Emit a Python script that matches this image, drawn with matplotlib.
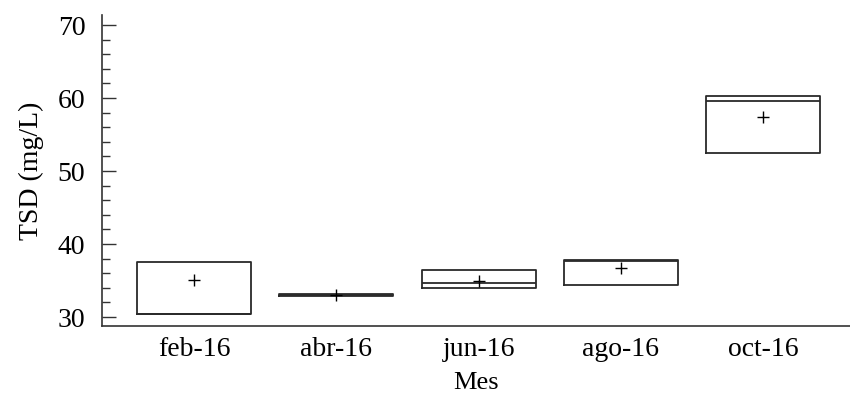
import matplotlib
matplotlib.use("Agg")
import matplotlib.pyplot as plt
from matplotlib.ticker import MultipleLocator

plt.rcParams["font.family"] = ["Liberation Serif", "DejaVu Serif"]

# Monthly TSD summary (mg/L)
meses = ["feb-16", "abr-16", "jun-16", "ago-16", "oct-16"]
q1 = [30.37, 32.88, 33.93, 34.38, 52.42]
mediana = [30.37, 33.0, 34.62, 37.62, 59.63]
q3 = [37.49, 33.12, 36.44, 37.81, 60.27]
media = [35.07, 33.0, 34.93, 36.67, 57.44]

stats = []
for m, a, med, b, mu in zip(meses, q1, mediana, q3, media):
    stats.append({"label": m, "q1": a, "med": med, "q3": b, "mean": mu,
                  "whislo": a, "whishi": b, "fliers": []})

fig = plt.figure(figsize=(8.5, 3.95), dpi=100)
ax = fig.add_axes([0.12, 0.1747, 0.88, 0.7873])

line = dict(color="#2a2a2a", linewidth=1.3)
ax.bxp(stats, positions=range(1, 6), widths=0.8, showmeans=True,
       showcaps=False, showfliers=False,
       boxprops=line, medianprops=line,
       whiskerprops=dict(linewidth=0),
       meanprops=dict(marker="+", markeredgecolor="black",
                      markersize=9, markeredgewidth=1.0))

ax.set_xlim(0.353, 5.61)
ax.set_ylim(28.77, 71.37)
ax.yaxis.set_major_locator(MultipleLocator(10))
ax.yaxis.set_minor_locator(MultipleLocator(2))
ax.tick_params(axis="y", which="major", direction="in", length=10,
               width=1, pad=12, labelsize=20, color="#333333")
ax.tick_params(axis="y", which="minor", direction="in", length=6,
               width=1, color="#333333")
ax.tick_params(axis="x", length=0, pad=8, labelsize=20)

for s in ["top", "right"]:
    ax.spines[s].set_visible(False)
for s in ["left", "bottom"]:
    ax.spines[s].set_color("#333333")
    ax.spines[s].set_linewidth(1.2)

ax.set_ylabel("TSD (mg/L)", fontsize=20, labelpad=10)
ax.set_xlabel("Mes", fontsize=19, labelpad=7)

fig.savefig("out.png", dpi=100)
